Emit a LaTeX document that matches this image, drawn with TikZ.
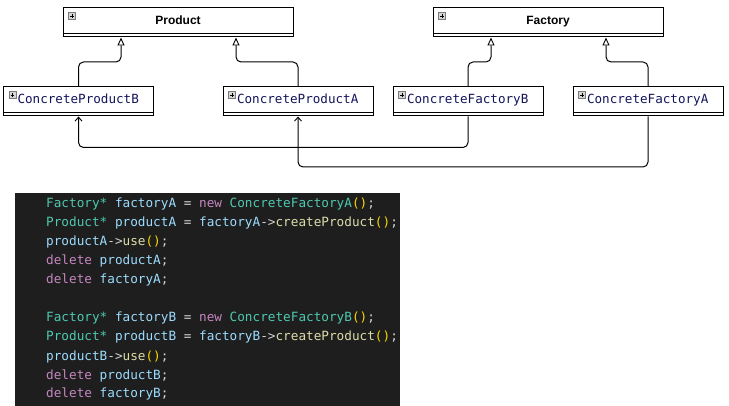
\documentclass[tikz,border=0pt]{standalone}
\usepackage{fontspec}
\setmainfont{Liberation Sans}
\newfontfamily\monof{DejaVu Sans Mono}
\usetikzlibrary{arrows.meta,calc}
\definecolor{cty}{HTML}{4EC9B0}
\definecolor{cva}{HTML}{9CDCFE}
\definecolor{ckw}{HTML}{C586C0}
\definecolor{cfn}{HTML}{DCDCAA}
\definecolor{cbr}{HTML}{FFD700}
\definecolor{cpu}{HTML}{D4D4D4}
\definecolor{cbg}{HTML}{1E1E1E}
\definecolor{cname}{HTML}{14145A}
\definecolor{iconfill}{HTML}{D6D6D6}
\definecolor{iconline}{HTML}{7A7A7A}
\newcommand\ty[1]{\textcolor{cty}{#1}}
\newcommand\va[1]{\textcolor{cva}{#1}}
\newcommand\kw[1]{\textcolor{ckw}{#1}}
\newcommand\fn[1]{\textcolor{cfn}{#1}}
\newcommand\br[1]{\textcolor{cbr}{#1}}
\newcommand\pu[1]{\textcolor{cpu}{#1}}
\begin{document}
\begin{tikzpicture}[x=1pt,y=-1pt,
  cls/.style={draw=black, line width=1pt, rectangle, minimum height=29pt, inner sep=0pt,
    text height=9pt, text depth=4pt,
    path picture={\draw[line width=1pt] ([yshift=3.6pt]path picture bounding box.south west) -- ([yshift=3.6pt]path picture bounding box.south east);}},
  abstractcls/.style={cls, minimum width=230pt, font=\fontsize{12}{14}\selectfont\bfseries},
  concretecls/.style={cls, minimum width=150pt, text width=150pt, align=left,
    font=\fontsize{12.6}{14}\monof, text=cname},
  icon/.style={draw=iconline, fill=iconfill, line width=0.6pt},
  inh/.style={line width=1pt, rounded corners=5pt, -{Triangle[open, width=7pt, length=8pt, line width=0.9pt]}},
  assoc/.style={line width=1pt, rounded corners=5pt, -{Straight Barb[length=4pt, width=7pt, line width=0.9pt]}},
  codeline/.style={anchor=base west, inner sep=0pt, font=\fontsize{12.7}{19}\monof},
]
\useasboundingbox (0,0) rectangle (729,406);
\fill[white] (0,0) rectangle (729,406);

% classes
\node[abstractcls] (prod) at (178,22.5) {Product};
\node[abstractcls] (fac) at (548,22.5) {Factory};
\node[concretecls] (cpb) at (78.5,101.5) {\hspace*{14pt}ConcreteProductB};
\node[concretecls] (cpa) at (298,101.5) {\hspace*{14pt}ConcreteProductA};
\node[concretecls] (cfb) at (468,101.5) {\hspace*{14pt}ConcreteFactoryB};
\node[concretecls] (cfa) at (648,101.5) {\hspace*{14pt}ConcreteFactoryA};

% icons
\foreach \n in {prod,fac,cpb,cpa,cfb,cfa}{
  \draw[icon] ($(\n.north west)+(6,5)$) rectangle ++(7,7);
  \draw[line width=0.8pt] ($(\n.north west)+(7.6,8.5)$) -- ++(3.8,0);
  \draw[line width=0.8pt] ($(\n.north west)+(9.5,6.6)$) -- ++(0,3.8);
}

% inheritance
\coordinate (pB) at ($(prod.south)+(-57,0)$);
\coordinate (pA) at ($(prod.south)+(58,0)$);
\coordinate (fB) at ($(fac.south)+(-57,0)$);
\coordinate (fA) at ($(fac.south)+(58,0)$);
\draw[inh] (cpb.north) -- (cpb.north |- 0,62) -| (pB);
\draw[inh] (cpa.north) -- (cpa.north |- 0,62) -| (pA);
\draw[inh] (cfb.north) -- (cfb.north |- 0,62) -| (fB);
\draw[inh] (cfa.north) -- (cfa.north |- 0,62) -| (fA);

% associations
\draw[assoc] (cfb.south) -- (cfb.south |- 0,147.5) -| (cpb.south);
\draw[assoc] (cfa.south) -- (cfa.south |- 0,167) -| (cpa.south);

% code panel
\node[fill=cbg, draw=none, inner sep=0pt, minimum width=385pt, minimum height=213pt, anchor=north west] (panel) at (15,193) {};
\node[codeline] (l1) at (46,208) {\ty{Factory*} \va{factoryA} \pu{=} \kw{new} \ty{ConcreteFactoryA}\br{()}\pu{;}};
\node[codeline] (l2) at (46,227) {\ty{Product*} \va{productA} \pu{=} \va{factoryA}\pu{->}\fn{createProduct}\br{()}\pu{;}};
\node[codeline] (l3) at (46,246) {\va{productA}\pu{->}\fn{use}\br{()}\pu{;}};
\node[codeline] (l4) at (46,265) {\kw{delete} \va{productA}\pu{;}};
\node[codeline] (l5) at (46,284) {\kw{delete} \va{factoryA}\pu{;}};
\node[codeline] (l6) at (46,322) {\ty{Factory*} \va{factoryB} \pu{=} \kw{new} \ty{ConcreteFactoryB}\br{()}\pu{;}};
\node[codeline] (l7) at (46,341) {\ty{Product*} \va{productB} \pu{=} \va{factoryB}\pu{->}\fn{createProduct}\br{()}\pu{;}};
\node[codeline] (l8) at (46,360) {\va{productB}\pu{->}\fn{use}\br{()}\pu{;}};
\node[codeline] (l9) at (46,379) {\kw{delete} \va{productB}\pu{;}};
\node[codeline] (l10) at (46,398) {\kw{delete} \va{factoryB}\pu{;}};
\end{tikzpicture}
\end{document}
